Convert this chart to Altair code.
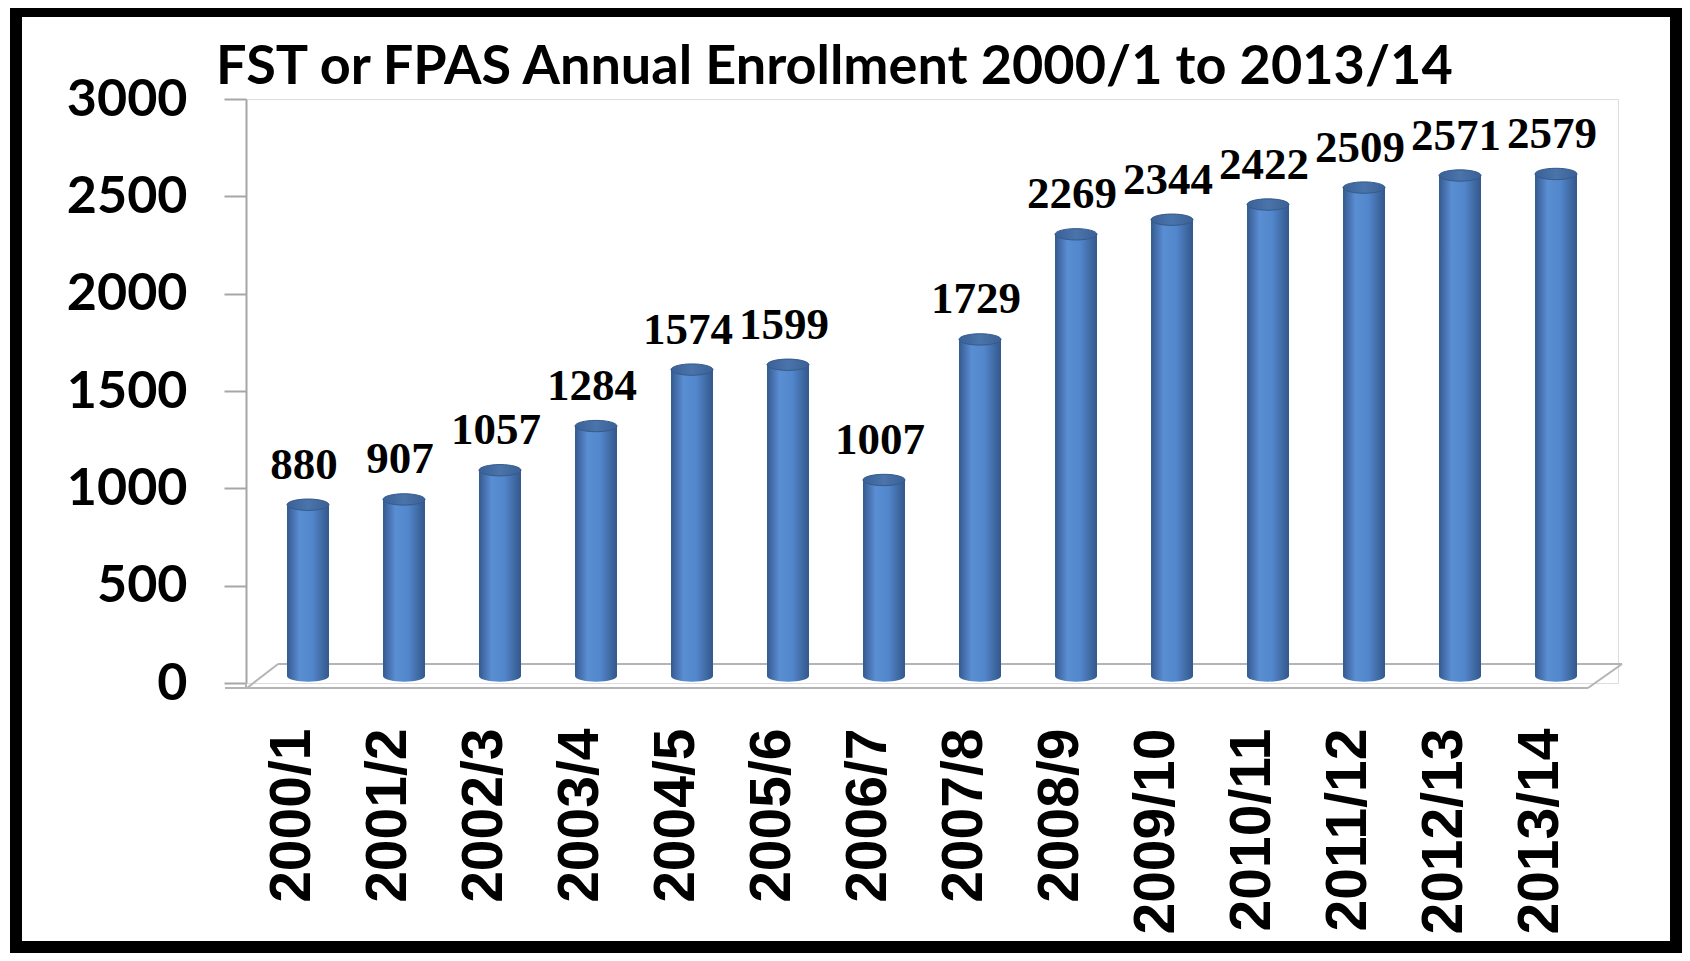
import altair as alt
import pandas as pd

years = ["2000/1", "2001/2", "2002/3", "2003/4", "2004/5", "2005/6", "2006/7",
         "2007/8", "2008/9", "2009/10", "2010/11", "2011/12", "2012/13", "2013/14"]
enrollment = [880, 907, 1057, 1284, 1574, 1599, 1007, 1729, 2269, 2344, 2422, 2509, 2571, 2579]
y_ticks = [0, 500, 1000, 1500, 2000, 2500, 3000]
title_text = "FST or FPAS Annual Enrollment 2000/1 to 2013/14"

df = pd.DataFrame({"year": years, "enrollment": enrollment})

W, H = 1372, 584
BAR_W = 42

xenc = alt.X("year:N", sort=years,
             scale=alt.Scale(paddingInner=0.5625, paddingOuter=0.427),
             axis=alt.Axis(title=None, labelAngle=-90, labelFont="Liberation Sans",
                           labelFontWeight="bold", labelFontSize=57, labelColor="black",
                           labelPadding=45, labelOffset=-15, labelLimit=0,
                           domain=False, ticks=False))
yenc = alt.Y("enrollment:Q", scale=alt.Scale(domain=[0, 3000], nice=False),
             axis=alt.Axis(title=None, values=y_ticks, format="d", grid=False, labelFont="Lato",
                           labelFontWeight="bold", labelFontSize=52, labelColor="black",
                           labelPadding=37, tickSize=22, tickColor="#a6a6a6", tickWidth=2,
                           domainColor="#a6a6a6", domainWidth=2))

body_grad = alt.Gradient(gradient="linear", x1=0, x2=1, y1=0, y2=0, stops=[
    alt.GradientStop(color="#355a8e", offset=0),
    alt.GradientStop(color="#5a8ed3", offset=0.3),
    alt.GradientStop(color="#5287cc", offset=0.6),
    alt.GradientStop(color="#33578a", offset=1),
])
cap_grad = alt.Gradient(gradient="linear", x1=0, x2=1, y1=0, y2=0, stops=[
    alt.GradientStop(color="#3a6197", offset=0),
    alt.GradientStop(color="#4a74aa", offset=0.5),
    alt.GradientStop(color="#3b6196", offset=1),
])
ellipse = "M -1 0 A 1 0.27 0 1 1 1 0 A 1 0.27 0 1 1 -1 0 Z"

base = alt.Chart(df).encode(x=xenc)

bottom_cap = base.mark_point(shape=ellipse, size=BAR_W * BAR_W, filled=True, fill=body_grad,
                             strokeWidth=0, opacity=1, yOffset=-7).encode(y=alt.datum(0))
bars = base.mark_bar(fill=body_grad, yOffset=-7, y2Offset=-7).encode(y=yenc)
top_cap = base.mark_point(shape=ellipse, size=BAR_W * BAR_W, filled=True, fill=cap_grad,
                          stroke="#35598c", strokeWidth=1, opacity=1, yOffset=-7).encode(y="enrollment:Q")
labels = base.mark_text(font="Liberation Serif", fontWeight="bold", fontSize=45, color="black",
                        baseline="alphabetic", dy=-33, dx=-4).encode(
    y="enrollment:Q", text="enrollment:Q")

one = alt.Data(values=[{"k": 1}])
floor_color = "#b4b4b4"
def rule(x1, y1, x2, y2):
    return alt.Chart(one).mark_rule(color=floor_color, strokeWidth=2).encode(
        x=alt.value(x1), y=alt.value(y1), x2=alt.value(x2), y2=alt.value(y2))

floor = (rule(-21, 589, 1342, 589) + rule(32, 565, 1376, 565) +
         rule(1, 589, 32, 565) + rule(1342, 589, 1376, 565) + rule(0, 584, 0, 589))

frame = alt.Chart(one).mark_rect(fillOpacity=0, stroke="black", strokeWidth=12).encode(
    x=alt.value(-230), x2=alt.value(1430), y=alt.value(-88), y2=alt.value(848))

title = alt.Chart(alt.Data(values=[{"t": title_text}])).mark_text(
    font="Lato", fontWeight="bold", fontSize=54, color="black",
    align="left", baseline="alphabetic").encode(
    x=alt.value(-30), y=alt.value(-15), text="t:N")

chart = alt.layer(frame, floor, bottom_cap, bars, top_cap, labels, title).properties(
    width=W, height=H,
    autosize=alt.AutoSizeParams(type="none"),
    padding={"left": 238, "top": 91, "right": 64, "bottom": 270},
).configure_view(stroke=None).configure(background="white")

chart.save("out.html", embed_options={"renderer": "svg", "actions": False})
